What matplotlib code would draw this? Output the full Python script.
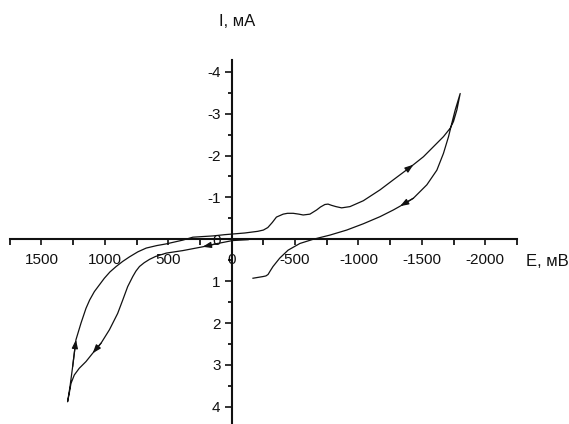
import matplotlib
matplotlib.use('Agg')
import matplotlib.pyplot as plt
from matplotlib.ticker import MultipleLocator, FixedLocator, FuncFormatter

plt.rcParams['font.family'] = ['Liberation Sans', 'DejaVu Sans']
plt.rcParams['axes.unicode_minus'] = False

# ---- data ----
# forward sweep: from start towards positive potentials (inner left branch)
E_fwd = [-130, -8, 110, 229, 385, 516, 600, 648, 690, 727, 755, 780, 820, 859,
         899, 964, 1030, 1096, 1149, 1202, 1241, 1267, 1281, 1294]
I_fwd = [0.01, 0.03, 0.10, 0.18, 0.27, 0.33, 0.41, 0.48, 0.56, 0.65, 0.76,
         0.89, 1.13, 1.45, 1.77, 2.16, 2.48, 2.72, 2.92, 3.08, 3.24, 3.44,
         3.68, 3.88]

# backward sweep: outer left branch, through origin, up to the negative vertex
E_back = [1275, 1254, 1228, 1188, 1149, 1120, 1083, 1004, 960, 911, 860, 806,
          740, 674, 590, 516, 385, 306, 148, 55, -103, -206, -250, -285, -320,
          -353, -406, -440, -485, -530, -564, -617, -670, -700, -735, -760,
          -788, -822, -867, -933, -1038, -1170, -1275, -1381, -1433, -1512,
          -1591, -1670, -1723, -1749, -1776, -1802]
I_back = [3.52, 3.04, 2.40, 2.00, 1.65, 1.45, 1.25, 0.93, 0.78, 0.65, 0.53,
          0.42, 0.30, 0.21, 0.15, 0.11, 0.02, -0.05, -0.08, -0.11, -0.15,
          -0.19, -0.22, -0.28, -0.40, -0.53, -0.60, -0.62, -0.62, -0.60, -0.58,
          -0.60, -0.70, -0.77, -0.83, -0.84, -0.81, -0.78, -0.75, -0.78, -0.92,
          -1.18, -1.42, -1.66, -1.78, -1.97, -2.21, -2.45, -2.65, -2.81, -3.09,
          -3.48]

# return sweep: lower right branch back to the end point
E_ret = [-1763, -1736, -1710, -1670, -1618, -1539, -1433, -1328, -1275, -1170,
         -1038, -907, -775, -643, -538, -445, -379, -326, -305, -287, -270,
         -247, -168]
I_ret = [-3.09, -2.77, -2.45, -2.05, -1.65, -1.30, -0.98, -0.79, -0.70, -0.54,
         -0.37, -0.22, -0.10, 0.00, 0.10, 0.26, 0.45, 0.65, 0.75, 0.84, 0.875,
         0.89, 0.93]

# arrow heads: (segment, index of the tip point) - direction from previous point
arrow_marks = [("fwd", 3), ("fwd", 17), ("back", 2), ("back", 44), ("ret", 7)]

x_ticks = [1500, 1000, 500, 0, -500, -1000, -1500, -2000]
y_ticks = [-4, -3, -2, -1, 0, 1, 2, 3, 4]
x_label = "E, мВ"
y_label = "I, мА"

# ---- figure ----
W, H = 569, 424
fig = plt.figure(figsize=(W / 100, H / 100), dpi=100)
ax = fig.add_axes([9.75 / W, 0.0, (517 - 9.75) / W, (H - 60) / H])

E_all = E_fwd + E_back + E_ret
I_all = I_fwd + I_back + I_ret
ax.plot(E_all, I_all, color='#111111', lw=0.9, solid_joinstyle='round')

segs = {"fwd": (E_fwd, I_fwd), "back": (E_back, I_back), "ret": (E_ret, I_ret)}
for name, k in arrow_marks:
    xs, ys = segs[name]
    ax.annotate('', xy=(xs[k], ys[k]), xytext=(xs[k - 1], ys[k - 1]),
                arrowprops=dict(arrowstyle='-|>,head_length=0.5,head_width=0.18',
                                color='#111111', lw=0.9, shrinkA=0, shrinkB=0))

ax.set_xlim(1750, -2250)
ax.set_ylim(4.41, -4.28)

for s in ('top', 'right'):
    ax.spines[s].set_visible(False)
ax.spines['left'].set_position(('data', 0))
ax.spines['bottom'].set_position(('data', 0))
for s in ('left', 'bottom'):
    ax.spines[s].set_linewidth(1.5)
    ax.spines[s].set_color('#111111')

ax.xaxis.set_major_locator(FixedLocator(x_ticks))
ax.xaxis.set_minor_locator(MultipleLocator(250))
ax.yaxis.set_major_locator(FixedLocator(y_ticks))
ax.yaxis.set_minor_locator(MultipleLocator(0.5))
ax.xaxis.set_major_formatter(FuncFormatter(lambda v, p: str(int(round(v)))))
ax.yaxis.set_major_formatter(FuncFormatter(lambda v, p: str(int(round(v)))))

ax.tick_params(axis='x', which='major', direction='out', length=4, width=1.2,
               pad=6, labelsize=11, colors='#111111')
ax.tick_params(axis='x', which='minor', direction='out', length=4, width=1.2)
ax.tick_params(axis='y', which='major', direction='out', length=5, width=1.2,
               pad=3, labelsize=11, colors='#111111')
ax.tick_params(axis='y', which='minor', direction='out', length=3, width=1.2)
ax.patch.set_visible(False)

fig.text(237 / W, 1 - 22 / H, y_label, ha='center', va='center', fontsize=12,
         color='#111111')
fig.text(547 / W, 1 - 262 / H, x_label, ha='center', va='center', fontsize=12,
         color='#111111')

fig.savefig('out.png', dpi=100)
